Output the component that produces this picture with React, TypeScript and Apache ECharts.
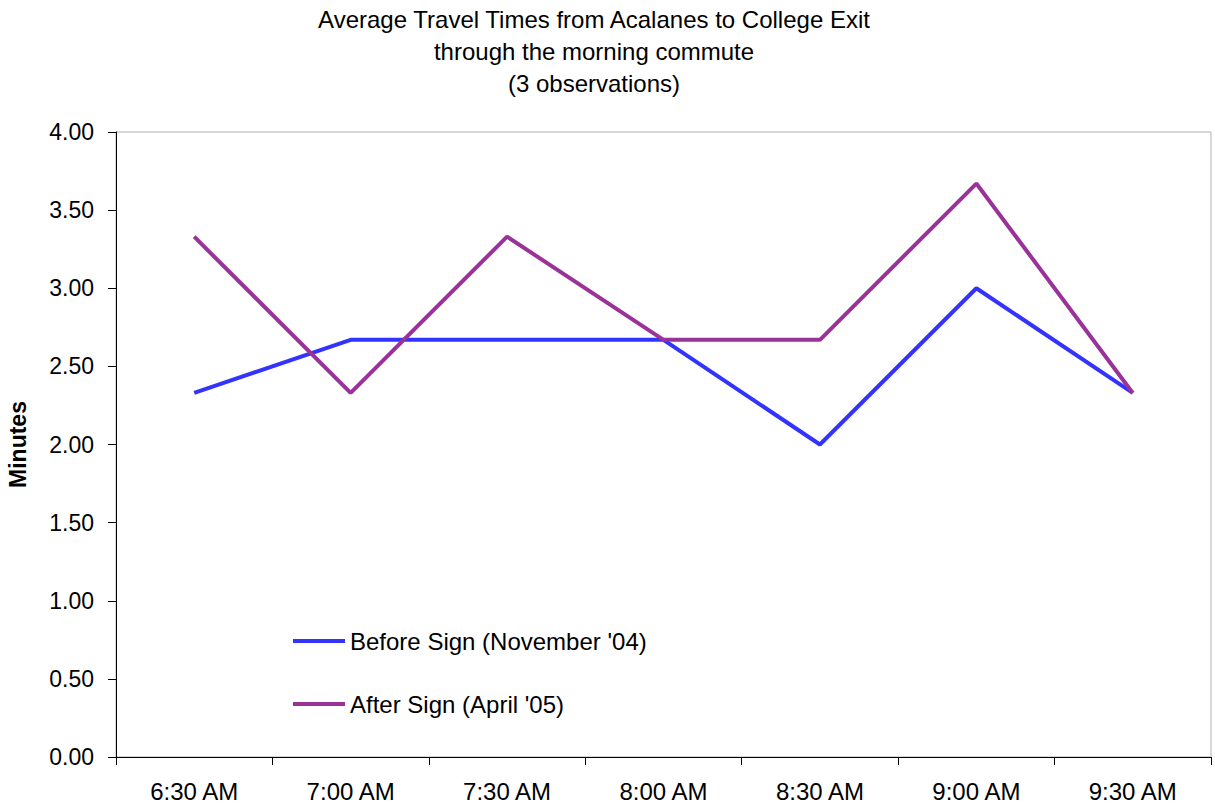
import React, { useEffect, useRef } from "react";
import * as echarts from "echarts";

const categories = ["6:30 AM", "7:00 AM", "7:30 AM", "8:00 AM", "8:30 AM", "9:00 AM", "9:30 AM"];
const beforeSign = [2.33, 2.67, 2.67, 2.67, 2.0, 3.0, 2.33];
const afterSign = [3.33, 2.33, 3.33, 2.67, 2.67, 3.67, 2.33];
const titleLines = [
  "Average Travel Times from Acalanes to College Exit",
  "through the morning commute",
  "(3 observations)",
];
const seriesNames = ["Before Sign (November '04)", "After Sign (April '05)"];

const FONT = "'Liberation Sans', Arial, sans-serif";

export default function App() {
  const ref = useRef<HTMLDivElement>(null);
  useEffect(() => {
    if (!ref.current) return;
    const chart = echarts.init(ref.current, null, { renderer: "svg" });
    chart.setOption({
      animation: false,
      backgroundColor: "#ffffff",
      title: {
        text: titleLines.join("\n"),
        left: 589,
        top: -2,
        textAlign: "center",
        textStyle: {
          fontFamily: FONT,
          fontSize: 24,
          fontWeight: "normal",
          color: "#000",
          lineHeight: 32,
        },
      },
      legend: {
        orient: "vertical",
        left: 293,
        top: 629,
        padding: 0,
        itemWidth: 52,
        itemHeight: 4,
        itemGap: 39,
        icon: "rect",
        textStyle: { fontFamily: FONT, fontSize: 24, color: "#000" },
        data: seriesNames,
      },
      grid: {
        left: 116,
        right: 4,
        top: 132,
        bottom: 50,
        outerBoundsMode: "none",
        containLabel: false,
        show: true,
        borderColor: "#b0b0b0",
        borderWidth: 1,
      },
      xAxis: {
        type: "category",
        data: categories,
        boundaryGap: true,
        axisLine: { lineStyle: { color: "#000", width: 1 } },
        axisTick: { show: true, length: 8, inside: false, lineStyle: { color: "#000" } },
        axisLabel: { fontFamily: FONT, fontSize: 24, color: "#000", margin: 22 },
        splitLine: { show: false },
      },
      yAxis: {
        type: "value",
        min: 0,
        max: 4,
        interval: 0.5,
        name: "Minutes",
        nameLocation: "middle",
        nameGap: 87,
        nameTextStyle: { fontFamily: FONT, fontSize: 23, fontWeight: "bold", color: "#000" },
        axisLine: { show: true, lineStyle: { color: "#000", width: 1 } },
        axisTick: { show: true, length: 8, inside: false, lineStyle: { color: "#000" } },
        axisLabel: {
          fontFamily: FONT,
          fontSize: 23,
          color: "#000",
          margin: 22,
          formatter: (v: number) => v.toFixed(2),
        },
        splitLine: { show: false },
      },
      series: [
        {
          name: seriesNames[0],
          type: "line",
          data: beforeSign,
          color: "#3333ff",
          symbol: "none",
          lineStyle: { width: 4, color: "#3333ff" },
        },
        {
          name: seriesNames[1],
          type: "line",
          data: afterSign,
          color: "#993399",
          symbol: "none",
          lineStyle: { width: 4, color: "#993399" },
        },
      ],
    });
    return () => chart.dispose();
  }, []);
  return <div ref={ref} style={{ width: 1215, height: 807, position: "absolute", left: 0, top: 0 }} />;
}
